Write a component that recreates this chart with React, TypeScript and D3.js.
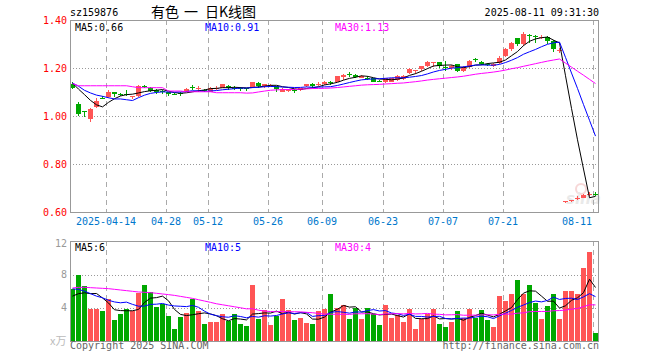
import React from 'react';
import * as d3 from 'd3';

// trading days shown (2025-04-03 .. 2025-08-11)
const DATES = [
  '2025-04-03', '2025-04-07', '2025-04-08', '2025-04-09', '2025-04-10', '2025-04-11', '2025-04-14', '2025-04-15', '2025-04-16', '2025-04-17',
  '2025-04-18', '2025-04-21', '2025-04-22', '2025-04-23', '2025-04-24', '2025-04-25', '2025-04-28', '2025-04-29', '2025-04-30', '2025-05-06',
  '2025-05-07', '2025-05-08', '2025-05-09', '2025-05-12', '2025-05-13', '2025-05-14', '2025-05-15', '2025-05-16', '2025-05-19', '2025-05-20',
  '2025-05-21', '2025-05-22', '2025-05-23', '2025-05-26', '2025-05-27', '2025-05-28', '2025-05-29', '2025-05-30', '2025-06-03', '2025-06-04',
  '2025-06-05', '2025-06-06', '2025-06-09', '2025-06-10', '2025-06-11', '2025-06-12', '2025-06-13', '2025-06-16', '2025-06-17', '2025-06-18',
  '2025-06-19', '2025-06-20', '2025-06-23', '2025-06-24', '2025-06-25', '2025-06-26', '2025-06-27', '2025-06-30', '2025-07-01', '2025-07-02',
  '2025-07-03', '2025-07-04', '2025-07-07', '2025-07-08', '2025-07-09', '2025-07-10', '2025-07-11', '2025-07-14', '2025-07-15', '2025-07-16',
  '2025-07-17', '2025-07-18', '2025-07-21', '2025-07-22', '2025-07-23', '2025-07-24', '2025-07-25', '2025-07-28', '2025-07-29', '2025-07-30',
  '2025-07-31', '2025-08-01', '2025-08-04', '2025-08-05', '2025-08-06', '2025-08-07', '2025-08-08', '2025-08-11',
];

const OPEN = [
  1.132, 1.051, 1.020, 0.988, 1.037, 1.077, 1.079, 1.099, 1.091, 1.093,
  1.083, 1.085, 1.126, 1.118, 1.107, 1.104, 1.099, 1.093, 1.096, 1.101,
  1.121, 1.112, 1.109, 1.101, 1.115, 1.118, 1.126, 1.118, 1.115, 1.115,
  1.118, 1.137, 1.123, 1.123, 1.123, 1.101, 1.104, 1.109, 1.107, 1.123,
  1.134, 1.129, 1.132, 1.142, 1.143, 1.162, 1.173, 1.171, 1.160, 1.160,
  1.157, 1.146, 1.140, 1.143, 1.151, 1.154, 1.179, 1.190, 1.196, 1.209,
  1.221, 1.223, 1.204, 1.198, 1.215, 1.187, 1.204, 1.237, 1.226, 1.218,
  1.209, 1.221, 1.251, 1.279, 1.323, 1.298, 1.337, 1.334, 1.326, 1.329,
  1.312, 1.271, 0.640, 0.645, 0.654, 0.660, 0.672, 0.676,
];

const HIGH = [
  1.140, 1.060, 1.020, 1.035, 1.073, 1.082, 1.107, 1.099, 1.094, 1.107,
  1.085, 1.129, 1.129, 1.121, 1.112, 1.107, 1.101, 1.096, 1.099, 1.115,
  1.129, 1.123, 1.112, 1.121, 1.123, 1.134, 1.129, 1.123, 1.121, 1.118,
  1.143, 1.140, 1.135, 1.132, 1.126, 1.115, 1.112, 1.112, 1.118, 1.135,
  1.137, 1.143, 1.146, 1.146, 1.168, 1.176, 1.182, 1.173, 1.171, 1.165,
  1.160, 1.151, 1.160, 1.160, 1.171, 1.171, 1.199, 1.193, 1.210, 1.229,
  1.223, 1.226, 1.229, 1.212, 1.218, 1.207, 1.235, 1.243, 1.229, 1.221,
  1.221, 1.248, 1.285, 1.310, 1.326, 1.348, 1.340, 1.337, 1.337, 1.332,
  1.318, 1.282, 0.645, 0.651, 0.665, 0.673, 0.682, 0.682,
];

const LOW = [
  1.112, 1.001, 0.996, 0.974, 1.032, 1.070, 1.074, 1.079, 1.082, 1.082,
  1.071, 1.079, 1.115, 1.099, 1.090, 1.093, 1.085, 1.087, 1.085, 1.099,
  1.107, 1.101, 1.101, 1.099, 1.110, 1.115, 1.110, 1.107, 1.104, 1.104,
  1.115, 1.118, 1.118, 1.120, 1.101, 1.101, 1.102, 1.096, 1.104, 1.120,
  1.118, 1.126, 1.129, 1.131, 1.140, 1.151, 1.162, 1.157, 1.157, 1.149,
  1.140, 1.140, 1.137, 1.140, 1.146, 1.148, 1.176, 1.176, 1.187, 1.204,
  1.204, 1.201, 1.187, 1.193, 1.182, 1.182, 1.201, 1.226, 1.212, 1.207,
  1.204, 1.218, 1.246, 1.271, 1.293, 1.290, 1.304, 1.304, 1.321, 1.301,
  1.265, 1.262, 0.638, 0.643, 0.648, 0.658, 0.668, 0.668,
];

const CLOSE = [
  1.118, 1.007, 1.017, 1.029, 1.062, 1.075, 1.101, 1.093, 1.086, 1.090,
  1.085, 1.126, 1.121, 1.104, 1.101, 1.099, 1.093, 1.090, 1.090, 1.112,
  1.118, 1.115, 1.107, 1.118, 1.118, 1.132, 1.115, 1.115, 1.112, 1.112,
  1.140, 1.126, 1.132, 1.129, 1.112, 1.112, 1.109, 1.104, 1.115, 1.132,
  1.126, 1.134, 1.140, 1.137, 1.165, 1.171, 1.171, 1.162, 1.168, 1.154,
  1.143, 1.143, 1.157, 1.157, 1.168, 1.168, 1.196, 1.193, 1.207, 1.223,
  1.223, 1.207, 1.201, 1.209, 1.187, 1.204, 1.229, 1.232, 1.215, 1.212,
  1.218, 1.243, 1.279, 1.304, 1.298, 1.343, 1.332, 1.329, 1.329, 1.312,
  1.279, 1.274, 0.644, 0.650, 0.657, 0.670, 0.676, 0.672,
];

// volume, x万
const VOLUME = [
  6.3, 8.0, 6.6, 3.8, 3.9, 3.6, 5.0, 2.5, 3.3, 3.8,
  3.6, 5.8, 6.7, 5.9, 4.1, 4.5, 3.0, 1.5, 2.9, 3.4,
  5.0, 3.6, 2.0, 2.3, 2.3, 3.2, 2.4, 3.3, 2.0, 1.8,
  6.7, 2.7, 3.7, 1.9, 3.0, 5.1, 3.7, 2.5, 2.8, 2.2,
  2.0, 3.6, 3.8, 5.7, 4.0, 4.3, 2.6, 4.0, 2.6, 4.0,
  3.2, 1.9, 4.3, 2.8, 3.1, 2.3, 3.9, 1.5, 2.6, 3.2,
  3.9, 2.1, 1.7, 2.3, 3.6, 2.8, 3.8, 2.8, 3.7, 2.5,
  1.7, 5.4, 4.8, 5.7, 7.3, 5.6, 6.8, 4.6, 2.7, 4.2,
  5.7, 2.6, 6.0, 6.0, 5.7, 8.8, 10.7, 1.0,
];

// moving-average values before their window is full (history is off-screen)
const PRICE_MA5_LEAD = [1.137, 1.112, 1.089, 1.065];
const PRICE_MA10_LEAD = [1.137, 1.124, 1.107, 1.096, 1.087, 1.082, 1.076, 1.071, 1.071];
const PRICE_MA30_LEAD = [
  1.135, 1.126, 1.126, 1.126, 1.126, 1.126, 1.126, 1.126, 1.126, 1.126,
  1.122, 1.118, 1.118, 1.118, 1.118, 1.118, 1.104, 1.104, 1.104, 1.101,
  1.101, 1.101, 1.101, 1.101, 1.097, 1.097, 1.097, 1.097, 1.097,
];
const VOL_MA5_LEAD = [5.4, 5.7, 5.8, 5.7];
const VOL_MA10_LEAD = [6.3, 6.2, 6.0, 5.7, 5.4, 5.2, 4.9, 4.7, 4.6];
const VOL_MA30_LEAD = [
  6.38, 6.46, 6.46, 6.42, 6.38, 6.34, 6.30, 6.22, 6.14, 6.06,
  5.98, 5.90, 5.86, 5.82, 5.74, 5.66, 5.58, 5.49, 5.37, 5.25,
  5.13, 4.97, 4.81, 4.65, 4.48, 4.36, 4.24, 4.12, 4.00,
];

const TICK_DATES = ['2025-04-14', '2025-04-28', '2025-05-12', '2025-05-26', '2025-06-09', '2025-06-23', '2025-07-07', '2025-07-21', '2025-08-11'];
const PRICE_TICKS = [1.4, 1.2, 1.0, 0.8, 0.6];
const VOL_TICKS = [12, 8, 4];
const PRICE_LEGEND = ['MA5:0.66', 'MA10:0.91', 'MA30:1.13'];
const VOL_LEGEND = ['MA5:6', 'MA10:5', 'MA30:4'];
const MA_COLORS = ['#000000', '#0000ff', '#ff00ff'];

const W = 660;
const H = 360;
const LEFT = 70;
const RIGHT = 597.5;
const P_TOP = 20;
const P_BOTTOM = 212;
const V_TOP = 241;
const V_BOTTOM = 341;
const UP = '#ff5555';
const DOWN = '#00a800';
const MONO = 'DejaVu Sans Mono, monospace';

function movingAverage(values: number[], n: number, lead: number[]): number[] {
  return values.map((_, i) => (i < n - 1 ? lead[i] : (d3.mean(values.slice(i - n + 1, i + 1)) as number)));
}

export default function App() {
  const x = d3.scaleBand<string>().domain(DATES).range([LEFT, LEFT + 6 * DATES.length]).paddingInner(1 / 6).paddingOuter(0);
  const bw = x.bandwidth();
  const left = (d: string) => Math.round(x(d) as number);
  const cx = (d: string) => left(d) + 2.5;

  const yP = d3.scaleLinear().domain([0.6, 1.4]).range([P_BOTTOM, P_TOP]);
  const yV = d3.scaleLinear().domain([0, 12]).range([V_BOTTOM, 241.3]);

  const priceMA = [
    movingAverage(CLOSE, 5, PRICE_MA5_LEAD),
    movingAverage(CLOSE, 10, PRICE_MA10_LEAD),
    movingAverage(CLOSE, 30, PRICE_MA30_LEAD),
  ];
  const volMA = [
    movingAverage(VOLUME, 5, VOL_MA5_LEAD),
    movingAverage(VOLUME, 10, VOL_MA10_LEAD),
    movingAverage(VOLUME, 30, VOL_MA30_LEAD),
  ];

  const lineP = d3.line<number>().x((_, i) => cx(DATES[i])).y((v) => yP(v));
  const lineV = d3.line<number>().x((_, i) => cx(DATES[i])).y((v) => yV(v));

  const isUp = (i: number) => CLOSE[i] >= OPEN[i];

  return (
    <svg width={W} height={H} style={{ position: 'absolute', left: 0, top: 0, display: 'block', background: '#fff' }}>
      {/* header */}
      <text x={70} y={16} fontFamily={MONO} fontSize={10} fill="#000">sz159876</text>
      <g fontFamily="Noto Sans CJK SC, sans-serif" fontSize={14} fill="#000">
        <text x={151} y={16.5}>有色</text>
        <text x={184} y={16.5}>一</text>
        <text x={205} y={16.5}>日K线图</text>
      </g>
      <text x={599} y={16} fontFamily={MONO} fontSize={10} fill="#000" textAnchor="end">2025-08-11 09:31:30</text>

      {/* watermark */}
      <g opacity={0.55}>
        <circle cx={581} cy={189} r={5} fill="none" stroke="#f2b8b8" strokeWidth={2} />
        <text x={566} y={204} fontFamily="DejaVu Sans, sans-serif" fontStyle="italic" fontWeight="bold" fontSize={15} fill="#d8d8d8">sina</text>
      </g>

      {/* grid */}
      <g shapeRendering="crispEdges">
        {[1.2, 1.0, 0.8].map((v) => (
          <line key={'hp' + v} x1={LEFT} x2={RIGHT} y1={Math.round(yP(v)) + 0.5} y2={Math.round(yP(v)) + 0.5} stroke="#999" strokeDasharray="1,2" />
        ))}
        {[8, 4].map((v) => (
          <line key={'hv' + v} x1={LEFT} x2={RIGHT} y1={Math.round(yV(v)) + 0.5} y2={Math.round(yV(v)) + 0.5} stroke="#999" strokeDasharray="1,2" />
        ))}
        {TICK_DATES.map((d) => (
          <g key={'v' + d}>
            <line x1={left(d) + 0.5} x2={left(d) + 0.5} y1={P_TOP} y2={P_BOTTOM} stroke="#aaa" strokeDasharray="5,4" />
            <line x1={left(d) + 0.5} x2={left(d) + 0.5} y1={V_TOP} y2={V_BOTTOM} stroke="#aaa" strokeDasharray="5,4" />
          </g>
        ))}
      </g>

      {/* candles */}
      <g shapeRendering="crispEdges">
        {DATES.map((d, i) => {
          const col = isUp(i) ? UP : DOWN;
          const top = Math.round(yP(Math.max(OPEN[i], CLOSE[i])));
          const bot = Math.round(yP(Math.min(OPEN[i], CLOSE[i])));
          const hi = Math.round(yP(HIGH[i]));
          const lo = Math.round(yP(LOW[i]));
          return (
            <g key={d}>
              <rect x={left(d) + 2} y={hi} width={1} height={Math.max(1, lo - hi)} fill={col} />
              <rect x={left(d)} y={top} width={bw} height={Math.max(1, bot - top)} fill={col} />
            </g>
          );
        })}
      </g>

      {/* volume bars */}
      <g shapeRendering="crispEdges">
        {DATES.map((d, i) => {
          const t = Math.round(yV(VOLUME[i]));
          return <rect key={'vb' + d} x={left(d)} y={t} width={bw} height={V_BOTTOM - t} fill={isUp(i) ? UP : DOWN} />;
        })}
      </g>

      {/* moving averages */}
      {priceMA.map((ma, k) => (
        <path key={'pm' + k} d={lineP(ma) ?? ''} fill="none" stroke={MA_COLORS[k]} strokeWidth={1} />
      ))}
      {volMA.map((ma, k) => (
        <path key={'vm' + k} d={lineV(ma) ?? ''} fill="none" stroke={MA_COLORS[k]} strokeWidth={1} />
      ))}

      {/* frames */}
      <g fill="none" stroke="#999" shapeRendering="crispEdges">
        <rect x={LEFT + 0.5} y={P_TOP + 0.5} width={RIGHT - LEFT} height={P_BOTTOM - P_TOP} />
        <rect x={LEFT + 0.5} y={V_TOP + 0.5} width={RIGHT - LEFT} height={V_BOTTOM - V_TOP} />
      </g>

      {/* legends */}
      <g fontFamily={MONO} fontSize={10}>
        {PRICE_LEGEND.map((t, k) => (
          <text key={'pl' + k} x={75 + 130 * k} y={30.5} fill={MA_COLORS[k]}>{t}</text>
        ))}
        {VOL_LEGEND.map((t, k) => (
          <text key={'vl' + k} x={75 + 130 * k} y={250.5} fill={MA_COLORS[k]}>{t}</text>
        ))}
      </g>

      {/* price axis */}
      <g fontFamily={MONO} fontSize={10} fill="#ff0000" textAnchor="end">
        {PRICE_TICKS.map((v) => (
          <text key={'pt' + v} x={67} y={yP(v) + 3.6}>{v.toFixed(2)}</text>
        ))}
      </g>

      {/* volume axis */}
      <g fontFamily={MONO} fontSize={10} fill="#999" textAnchor="end">
        {VOL_TICKS.map((v, i) => (
          <text key={'vt' + v} x={67} y={(i === 0 ? V_TOP + 2 : yV(v)) + 3.6}>{v}</text>
        ))}
      </g>
      <text x={50} y={345} fontFamily="Noto Sans CJK SC, sans-serif" fontSize={11} fill="#bbb">x万</text>

      {/* date axis */}
      <g fontFamily={MONO} fontSize={10} fill="#0077cc" textAnchor="middle">
        {TICK_DATES.map((d, i) => {
          const label = i === 0 ? d : d.slice(5);
          const half = label.length * 3.01;
          const cxl = Math.min(left(d), 592 - half);
          return <text key={'dt' + d} x={cxl} y={225}>{label}</text>;
        })}
      </g>

      {/* footer */}
      <g fontFamily={MONO} fontSize={10} fill="#666">
        <text x={70} y={349}>Copyright 2025 SINA.COM</text>
        <text x={599} y={349} textAnchor="end">http://finance.sina.com.cn</text>
      </g>
    </svg>
  );
}
